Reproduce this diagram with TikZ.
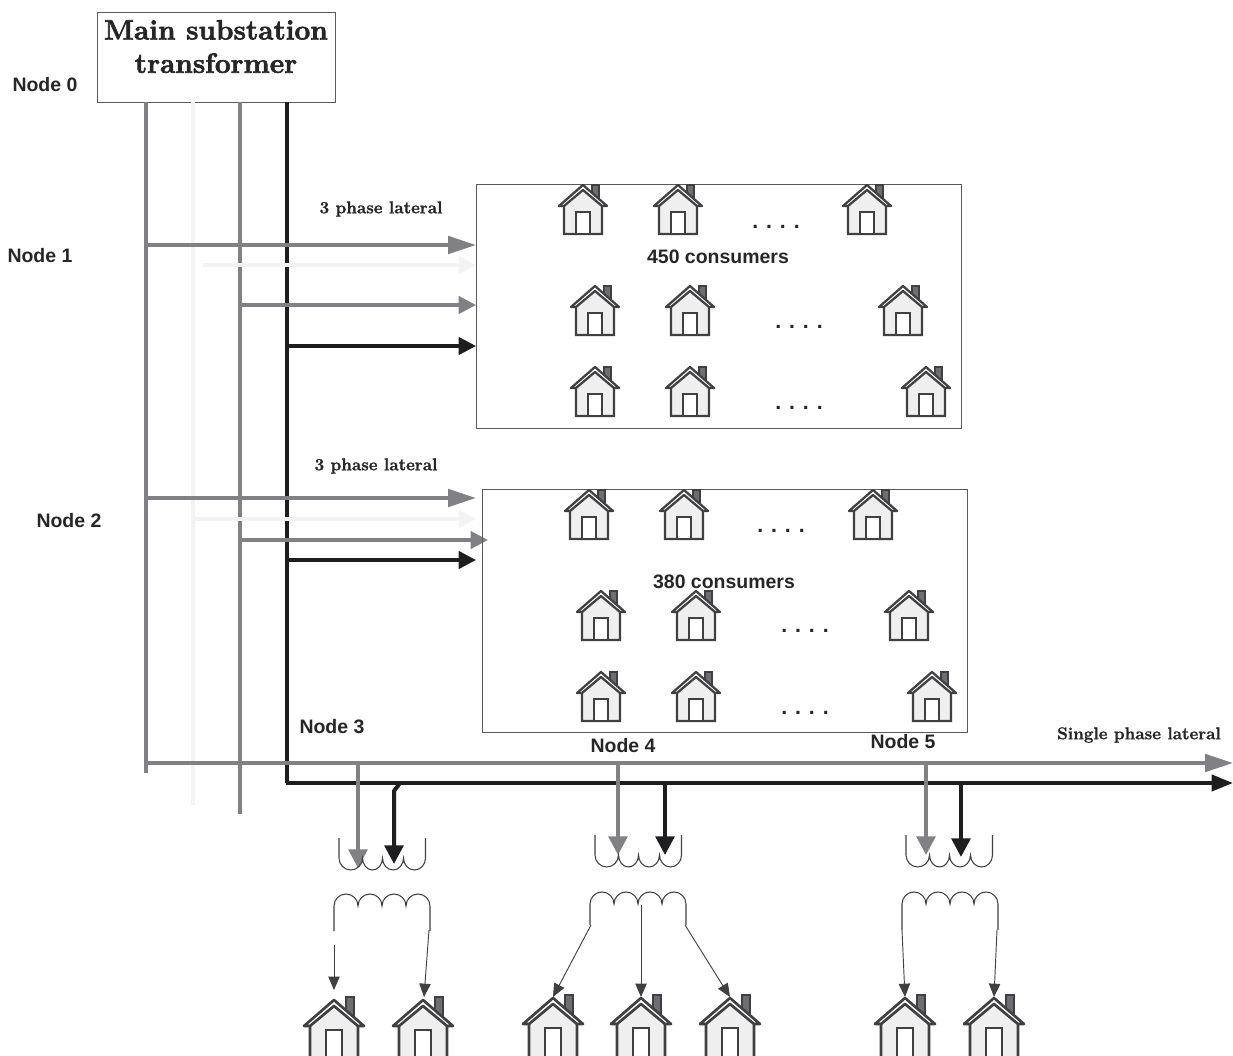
\documentclass[tikz,border=0pt]{standalone}
\usepackage{fontspec}
\newfontfamily\labelsans{Liberation Sans}
\newfontfamily\heavyserif[FakeBold=2.2,BoldFont={Latin Modern Roman/B}]{Latin Modern Roman}
\newfontfamily\midserif[FakeBold=1.3,BoldFont={Latin Modern Roman/B}]{Latin Modern Roman}
\usetikzlibrary{arrows.meta,calc}
\definecolor{feedgray}{HTML}{808085}
\definecolor{feedfaint}{HTML}{F3F3F3}
\definecolor{feedblack}{HTML}{1E1E20}
\definecolor{wallfill}{HTML}{EFEFEF}
\definecolor{chimfill}{HTML}{6E6E72}
\definecolor{inkline}{HTML}{404042}
\definecolor{boxgray}{HTML}{5A5A5C}
\tikzset{
  x=0.75pt,y=-0.75pt,
  bus/.style={line width=3pt,color=feedgray},
  busthin/.style={line width=2.3pt,color=feedgray},
  busfaint/.style={line width=2.3pt,color=feedfaint},
  busblack/.style={line width=2.6pt,color=feedblack},
  tipA/.style={-{Triangle[length=21pt,width=13pt]}},
  tipB/.style={-{Triangle[length=13pt,width=13pt]}},
  tipC/.style={-{Triangle[length=16pt,width=12pt]}},
  tipD/.style={-{Triangle[length=14pt,width=14pt]}},
  coilline/.style={line width=0.8pt,color=inkline},
  loadarrow/.style={line width=0.7pt,color=inkline,-{Triangle[length=10pt,width=8.5pt]}},
  boxline/.style={draw=boxgray,line width=0.7pt,fill=none},
  sanslabel/.style={font=\labelsans\bfseries\fontsize{14.6pt}{16pt}\selectfont,text=black!85,inner sep=0pt},
  seriflabel/.style={font=\midserif\bfseries\fontsize{12.8pt}{14pt}\selectfont,text=black!85,inner sep=0pt},
  dotsl/.style={font=\labelsans\bfseries\fontsize{16pt}{16pt}\selectfont,text=black!85,inner sep=0pt},
  pics/homeicon/.style={code={
    \fill[chimfill,draw=inkline,line width=1pt] (9,0) rectangle (16,18);
    \fill[wallfill,draw=inkline,line width=1.7pt] (-19,20) -- (0,3) -- (19,20) -- (19,49) -- (-19,49) -- cycle;
    \fill[white,draw=inkline,line width=1.7pt] (-7,27) rectangle (7,49);
    \fill[white] (-24,21) -- (0,0) -- (24,21) -- (19,21) -- (0,5) -- (-19,21) -- cycle;
    \draw[inkline,line width=1.7pt,line join=round] (-24,21) -- (0,0) -- (24,21) -- (19,21) -- (0,5) -- (-19,21) -- cycle;
  }},
  pics/homebig/.style={code={
    \fill[chimfill,draw=inkline,line width=1.2pt] (12,-3) rectangle (20,16);
    \fill[wallfill,draw=inkline,line width=2pt] (-24,24) -- (0,4) -- (24,24) -- (24,60) -- (-24,60) -- cycle;
    \fill[white,draw=inkline,line width=2pt] (-8,30) rectangle (8,60);
    \fill[white] (-30,26) -- (0,0) -- (30,26) -- (24,26) -- (0,6) -- (-24,26) -- cycle;
    \draw[inkline,line width=2pt,line join=round] (-30,26) -- (0,0) -- (30,26) -- (24,26) -- (0,6) -- (-24,26) -- cycle;
  }}
}
\newcommand{\primcoil}[2]{% x left, y top
  \draw[coilline] (#1,#2) -- (#1,#2+20) arc[start angle=180,end angle=360,x radius=11.75,y radius=-12]
    arc[start angle=180,end angle=360,x radius=10,y radius=-12]
    arc[start angle=180,end angle=360,x radius=10.5,y radius=-12]
    arc[start angle=180,end angle=360,x radius=11,y radius=-12] -- ++(0,-20);
}
\newcommand{\seccoil}[3]{% x left, y top, y leg end
  \draw[coilline] (#1,#3) -- (#1,#2+12) arc[start angle=180,end angle=0,x radius=12,y radius=-12]
    arc[start angle=180,end angle=0,x radius=12,y radius=-12]
    arc[start angle=180,end angle=0,x radius=12,y radius=-12]
    arc[start angle=180,end angle=0,x radius=12,y radius=-12] -- (#1+96,#3);
}
\begin{document}
\begin{tikzpicture}
\useasboundingbox (0,0) rectangle (1233,1056);
% substation
\node[boxline,minimum width=178pt,minimum height=68pt,inner sep=0pt] (sub) at (216.5,57.5) {};
\node[align=center,inner sep=0pt,font=\heavyserif\bfseries\fontsize{21pt}{25pt}\selectfont,text=black!85] (subtext) at (216,46.5) {Main substation\\transformer};
% labels
\node[sanslabel] (n0) at (45,85) {Node 0};
\node[sanslabel] (n1) at (40,256) {Node 1};
\node[sanslabel] (n2) at (69,521) {Node 2};
\node[sanslabel] (n3) at (332,727) {Node 3};
\node[sanslabel] (n4) at (623,746) {Node 4};
\node[sanslabel] (n5) at (903,742) {Node 5};
\node[seriflabel] (l1) at (381,209) {3 phase lateral};
\node[seriflabel] (l2) at (376,466) {3 phase lateral};
\node[seriflabel] (l3) at (1139,735) {Single phase lateral};
% coordinates
\foreach \n/\x/\y in {a0/146/102,a1/146/773,b0/193/102,b1/193/805,c0/240/102,c1/240/814,d0/287/102,d1/287/783,
  e0/146/763,e1/1233/763,f1/1233/783,
  g1/146/245,g2/476/245,h1/203/265,h2/476/265,i1/240/305,i2/476/305,j1/287/346,j2/476/346,
  k1/146/498,k2/476/498,m1/193/519,m2/476/519,o1/240/540,o2/488/540,p1/287/560,p2/476/560,
  q1/358/763,q2/358/868,r1/400/783,r2/394/791,r3/394/864,
  s1/618/763,s2/618/855,t1/665/783,t2/665/855,u1/926/763,u2/926/855,v1/961/783,v2/961/857,
  w0/334/931,w1/334/945,w2/334/990,w3/429/930,w4/424/997,
  y1/591/925,y2/553/997,y3/641/905,y4/641/997,y5/685/925,y6/730/997,
  z1/902/930,z2/905/997,z3/997/930,z4/994/997} {\coordinate (\n) at (\x,\y);}
% buses
\draw[busfaint,line width=3pt] (b0) -- (b1);
\draw[bus] (a0) -- (a1);
\draw[bus] (c0) -- (c1);
\draw[busblack,line width=3pt] (d0) -- (d1);
\draw[busfaint,tipB] (h1) -- (h2);
\draw[busfaint,tipB] (m1) -- (m2);
\draw[bus,tipA] (g1) -- (g2);
\draw[busthin,tipB] (i1) -- (i2);
\draw[busblack,tipB] (j1) -- (j2);
\draw[bus,tipA] (k1) -- (k2);
\draw[busthin,tipB] (o1) -- (o2);
\draw[busblack,tipB] (p1) -- (p2);
\draw[bus,tipA] (e0) -- (e1);
\draw[busblack,tipC,line width=3pt] ([xshift=-1.1pt]d1) -- (f1);
% boxes
\node[boxline,minimum width=363.75pt,minimum height=183pt,inner sep=0pt] (box1) at (718.5,306) {};
\node[boxline,minimum width=363.75pt,minimum height=182.25pt,inner sep=0pt] (box2) at (724.5,610.5) {};
% houses
\foreach \x/\y in {583/185,678/185,867/185,595/286,690/286,903/286,595/367,690/367,926/367,
  589/490,684/490,873/490,601/591,696/591,909/591,601/672,696/672,932/672}
  {\pic at (\x,\y) {homeicon};}
\foreach \x/\y in {334/1000,423/1000,553/998,641/998,730/998,905/998,994/998}
  {\pic at (\x,\y) {homebig};}
% box text
\node[sanslabel] (c450) at (718,257) {450 consumers};
\node[sanslabel] (c380) at (724,582) {380 consumers};
\foreach \x/\y/\nm in {776/227/d1a,799/327/d1b,799/408/d1c,781/531/d2a,805/631/d2b,805/713/d2c}
  {\node[dotsl] (\nm) at (\x,\y) {. . . .};}
% transformer drops
\draw[bus,tipD] (q1) -- (q2);
\draw[busblack,line width=3pt,tipD,line join=miter] (r1) -- (r2) -- (r3);
\draw[bus,tipD] (s1) -- (s2);
\draw[busblack,line width=3pt,tipD] (t1) -- (t2);
\draw[bus,tipD] (u1) -- (u2);
\draw[busblack,line width=3pt,tipD] (v1) -- (v2);
% coils
\primcoil{339}{838}
\primcoil{595}{835}
\primcoil{906}{835}
\seccoil{334}{894}{931}
\seccoil{590}{892}{925}
\seccoil{902}{892}{930}
\draw[loadarrow] (w1) -- (w2);
\draw[loadarrow] (w3) -- (w4);
\draw[loadarrow] (y1) -- (y2);
\draw[loadarrow] (y3) -- (y4);
\draw[loadarrow] (y5) -- (y6);
\draw[loadarrow] (z1) -- (z2);
\draw[loadarrow] (z3) -- (z4);
\end{tikzpicture}
\end{document}
